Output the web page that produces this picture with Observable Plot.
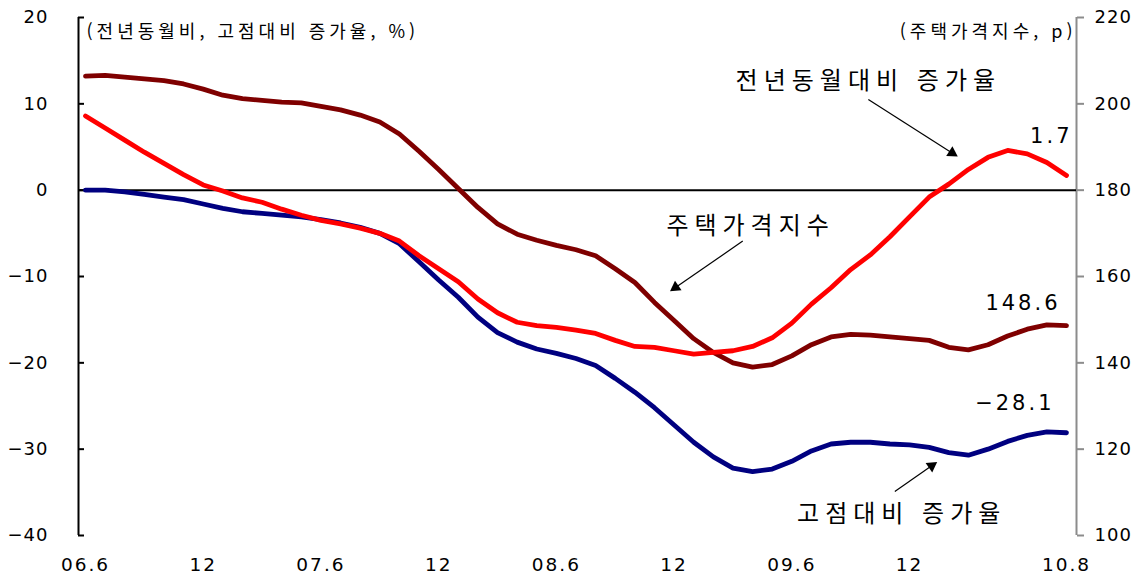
<!DOCTYPE html>
<html lang="ko">
<head>
<meta charset="utf-8">
<script src="https://cdn.jsdelivr.net/npm/d3@7"></script>
<script src="https://cdn.jsdelivr.net/npm/@observablehq/plot@0.6"></script>
<style>
  html, body { margin: 0; padding: 0; background: #fff; }
  #chart svg { display: block; }
  #chart g[aria-label="x-axis tick label"] text { letter-spacing: 2px; }
  #chart g[aria-label="y-axis tick label"] text { letter-spacing: 1px; }
</style>
</head>
<body>
<div id="chart"></div>
<script>
// Monthly observations from 2006.6 (month 0) to 2010.8 (month 50)
const monthCount = 51;

// Year-on-year change (%), left axis
const yoyChange = [8.6, 7.2, 5.8, 4.4, 3.1, 1.8, 0.6, -0.1, -0.9, -1.4,
  -2.2, -2.9, -3.5, -3.9, -4.4, -5.0, -5.9, -7.6, -9.1, -10.6,
  -12.6, -14.2, -15.3, -15.7, -15.9, -16.2, -16.6, -17.4, -18.1, -18.2,
  -18.6, -19.0, -18.8, -18.6, -18.1, -17.1, -15.4, -13.2, -11.3, -9.2,
  -7.5, -5.4, -3.1, -0.8, 0.7, 2.4, 3.8, 4.6, 4.2, 3.2, 1.7];

// Change from the peak (%), left axis
const fromPeak = [0.0, 0.0, -0.2, -0.5, -0.8, -1.1, -1.6, -2.1, -2.5, -2.7,
  -2.9, -3.1, -3.4, -3.8, -4.3, -5.0, -6.2, -8.3, -10.4, -12.4,
  -14.7, -16.5, -17.6, -18.4, -18.9, -19.5, -20.3, -21.8, -23.4, -25.2,
  -27.2, -29.2, -30.9, -32.2, -32.6, -32.3, -31.4, -30.2, -29.4, -29.2,
  -29.2, -29.4, -29.5, -29.8, -30.4, -30.7, -30.0, -29.1, -28.4, -28.0, -28.1];

// House price index (p), right axis
const priceIndex = [206.4, 206.6, 206.2, 205.8, 205.4, 204.6, 203.4, 202.0, 201.2, 200.8,
  200.4, 200.2, 199.4, 198.6, 197.4, 195.8, 193.0, 189.0, 184.8, 180.4,
  176.0, 172.2, 169.8, 168.4, 167.2, 166.2, 164.8, 161.8, 158.6, 154.0,
  149.8, 145.6, 142.4, 140.0, 139.0, 139.6, 141.6, 144.2, 146.0, 146.6,
  146.4, 146.0, 145.6, 145.2, 143.6, 143.0, 144.2, 146.2, 147.8, 148.8, 148.6];

// Axis ticks
const xTickMonths = [0, 6, 12, 18, 24, 30, 36, 42, 50];
const xTickLabels = ["06.6", "12", "07.6", "12", "08.6", "12", "09.6", "12", "10.8"];
const leftTicks = [-40, -30, -20, -10, 0, 10, 20];
const rightTicks = [100, 120, 140, 160, 180, 200, 220];

// Titles and series notes
const leftTitle = "(전년동월비, 고점대비 증가율, %)";
const rightTitle = "(주택가격지수, p)";
const noteLabels = ["전년동월대비 증가율", "주택가격지수", "고점대비 증가율"];

// The index shares the left scale: 180p sits on 0 %, 20p per 10 %
const toLeft = p => (p - 180) / 2;
const fromLeft = v => 180 + 2 * v;

// Layout
const W = 1142, H = 579;
const M = {top: 17, right: 66, bottom: 44, left: 78};
const inset = {left: 7, right: 10};
const pxPerMonth = (W - M.left - M.right - inset.left - inset.right) / (monthCount - 1);
const pxPerUnit = (H - M.top - M.bottom) / 60;

const colors = {index: "#7f0000", yoy: "#ff0000", peak: "#000080"};
const numFont = "'DejaVu Sans', 'Noto Sans CJK KR', sans-serif";
const krFont = "'Noto Sans CJK KR', sans-serif";

const months = d3.range(monthCount);
const series = (values, map = v => v) => months.map(i => ({m: i, v: map(values[i])}));
const indexRows = series(priceIndex, toLeft);
const yoyRows = series(yoyChange);
const peakRows = series(fromPeak);
const last = monthCount - 1;

// Notes with their arrows, in month / left-axis units
const notes = [
  {text: noteLabels[0], x: 39.9, y: 12.6, x1: 39.9, y1: 10.5, x2: 44.45, y2: 3.9},
  {text: noteLabels[1], x: 33.9, y: -4.2, x1: 33.5, y1: -5.9, x2: 29.8, y2: -11.7},
  {text: noteLabels[2], x: 41.6, y: -37.5, x1: 41.25, y1: -34.9, x2: 43.4, y2: -31.5}
].map(n => {
  const dxp = (n.x2 - n.x1) * pxPerMonth;
  const dyp = -(n.y2 - n.y1) * pxPerUnit;
  const len = Math.hypot(dxp, dyp);
  const ux = dxp / len, uy = dyp / len;
  const back = 6.5; // centroid of the arrow head sits behind the tip
  return {
    ...n,
    angle: Math.atan2(ux, -uy) * 180 / Math.PI,
    hx: n.x2 - back * ux / pxPerMonth,
    hy: n.y2 + back * uy / pxPerUnit
  };
});

const valueLabels = [
  {m: last, v: yoyRows[last].v, text: yoyChange[last].toFixed(1), dx: 6, dy: -39},
  {m: last, v: indexRows[last].v, text: priceIndex[last].toFixed(1), dx: -6, dy: -22},
  {m: last, v: peakRows[last].v, text: "\u2212" + Math.abs(fromPeak[last]).toFixed(1), dx: -12, dy: -29}
];

const xLabel = new Map(xTickMonths.map((m, i) => [m, xTickLabels[i]]));

// Letter spacing per text string
const spacing = new Map([
  [leftTitle, "4px"], [rightTitle, "4px"],
  [noteLabels[0], "6px"], [noteLabels[1], "6px"], [noteLabels[2], "6px"],
  ...valueLabels.map(d => [d.text, "3px"])
]);

const chart = Plot.plot({
  width: W,
  height: H,
  marginTop: M.top,
  marginRight: M.right,
  marginBottom: M.bottom,
  marginLeft: M.left,
  style: {fontFamily: numFont, fontSize: "18px", color: "#000", background: "#fff"},
  x: {type: "linear", domain: [0, last], insetLeft: inset.left, insetRight: inset.right},
  y: {domain: [-40, 20]},
  marks: [
    // frame sides
    Plot.ruleX([0], {y1: -40, y2: 20, dx: -inset.left, stroke: "#000", strokeWidth: 2}),
    Plot.ruleX([last], {y1: -40, y2: 20, dx: inset.right, stroke: "#8c8c8c", strokeWidth: 2}),
    Plot.ruleY([0], {stroke: "#000", strokeWidth: 2}),

    // left axis: inward ticks, labels
    Plot.axisY(leftTicks, {anchor: "left", tickSize: 6, dx: 6, fill: "none", stroke: "#000", strokeWidth: 2, label: null}),
    Plot.axisY(leftTicks, {anchor: "left", tickSize: 0, tickPadding: 30, fontSize: 18, fill: "#000", label: null,
      tickFormat: d => d < 0 ? "\u2212" + Math.abs(d) : String(d)}),

    // right axis for the index
    Plot.axisY(rightTicks.map(toLeft), {anchor: "right", tickSize: 7, tickPadding: 11, stroke: "#8c8c8c", strokeWidth: 2,
      fill: "#000", fontSize: 18, label: null, tickFormat: d => String(fromLeft(d))}),

    // month axis
    Plot.axisX(xTickMonths, {anchor: "bottom", tickSize: 0, tickPadding: 22, fontSize: 18.5, fill: "#000", label: null,
      tickFormat: d => xLabel.get(d)}),

    // series
    Plot.line(indexRows, {x: "m", y: "v", stroke: colors.index, strokeWidth: 4.8, strokeLinejoin: "round"}),
    Plot.line(peakRows, {x: "m", y: "v", stroke: colors.peak, strokeWidth: 4.8, strokeLinejoin: "round"}),
    Plot.line(yoyRows, {x: "m", y: "v", stroke: colors.yoy, strokeWidth: 4.8, strokeLinejoin: "round"}),

    // latest values
    ...valueLabels.map(d => Plot.text([d], {x: "m", y: "v", text: "text", dx: d.dx, dy: d.dy,
      textAnchor: "end", fontSize: 21, fill: "#000", fontFamily: numFont})),

    // unit titles
    Plot.text([leftTitle], {frameAnchor: "top-left", dx: 8, dy: 8, textAnchor: "start", fontSize: 18,
      fontFamily: krFont, fill: "#000"}),
    Plot.text([rightTitle], {frameAnchor: "top-right", dx: 0, dy: 8, textAnchor: "end", fontSize: 18,
      fontFamily: krFont, fill: "#000"}),

    // series notes with arrows
    Plot.link(notes, {x1: "x1", y1: "y1", x2: "hx", y2: "hy", stroke: "#000", strokeWidth: 1.2}),
    Plot.dot(notes, {x: "hx", y: "hy", symbol: "triangle", r: 4.3, rotate: "angle", fill: "#000", stroke: "none"}),
    Plot.text(notes, {x: "x", y: "y", text: "text", fontSize: 24, fontFamily: krFont, fill: "#000"})
  ]
});

d3.select(chart).selectAll("text").each(function() {
  const ls = spacing.get(this.textContent);
  if (ls) this.style.letterSpacing = ls;
});

document.getElementById("chart").append(chart);
</script>
</body>
